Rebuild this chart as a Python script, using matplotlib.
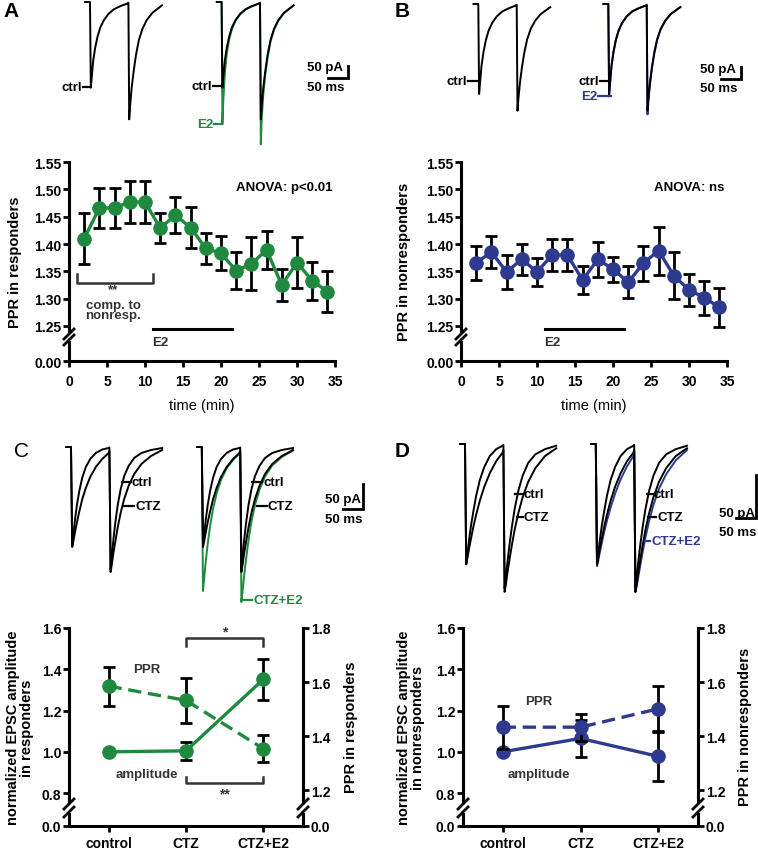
import numpy as np
import matplotlib
matplotlib.use("Agg")
import matplotlib.pyplot as plt
from matplotlib.lines import Line2D
from matplotlib.ticker import FormatStrFormatter

W, H = 758, 853
GREEN = "#1f8a3f"
BLUE = "#2d3a8f"
GREY = "#333333"
MS_PER_PX = 2.5

plt.rcParams["font.family"] = ["Liberation Sans", "DejaVu Sans"]
plt.rcParams["font.weight"] = "bold"
plt.rcParams["font.size"] = 10
plt.rcParams["axes.linewidth"] = 2.2
for a in ("xtick", "ytick"):
    plt.rcParams[a + ".major.width"] = 2.0
    plt.rcParams[a + ".major.size"] = 4.5
    plt.rcParams[a + ".labelsize"] = 10
    plt.rcParams[a + ".direction"] = "out"

# ---- PPR time course (A, B) ----
time_min = [2, 4, 6, 8, 10, 12, 14, 16, 18, 20, 22, 24, 26, 28, 30, 32, 34]
ppr_resp = [1.410, 1.466, 1.466, 1.477, 1.477, 1.429, 1.453, 1.430, 1.392,
            1.383, 1.351, 1.364, 1.389, 1.325, 1.366, 1.333, 1.313]
ppr_resp_sem = [0.046, 0.037, 0.037, 0.039, 0.039, 0.027, 0.033, 0.037, 0.029,
                0.031, 0.034, 0.048, 0.034, 0.030, 0.046, 0.035, 0.038]
ppr_nonresp = [1.366, 1.385, 1.349, 1.372, 1.349, 1.380, 1.380, 1.334, 1.372,
               1.354, 1.330, 1.365, 1.388, 1.342, 1.316, 1.302, 1.284]
ppr_nonresp_sem = [0.031, 0.029, 0.031, 0.028, 0.026, 0.029, 0.029, 0.026, 0.032,
                   0.023, 0.029, 0.032, 0.044, 0.043, 0.029, 0.031, 0.036]
e2_window = [11, 21.5]

# ---- CTZ experiments (C, D) ----
conditions = ["control", "CTZ", "CTZ+E2"]
amp_resp = [1.0, 1.005, 1.352]
amp_resp_sem = [0.0, 0.045, 0.10]
ppr_resp_ctz = [1.585, 1.532, 1.353]
ppr_resp_ctz_sem = [0.072, 0.082, 0.05]
amp_nonresp = [1.0, 1.065, 0.978]
amp_nonresp_sem = [0.0, 0.088, 0.117]
ppr_nonresp_ctz = [1.433, 1.433, 1.501]
ppr_nonresp_ctz_sem = [0.08, 0.05, 0.083]

# ---- example EPSC traces (ms, pA) ----
t_ab = [-12, 0, 2, 4, 8, 13, 19, 26, 35, 46, 60, 76, 94, 96, 98, 100, 104, 109,
        115, 122, 131, 142, 156, 180]
a_ctrl = [0, 0, -357, -320, -245, -190, -143, -105, -75, -50, -30, -17, -6, -3,
          -489, -440, -360, -290, -220, -160, -112, -75, -45, -14]
a_e2 = [0, 0, -510, -420, -300, -215, -155, -112, -78, -52, -31, -18, -6, -3,
        -593, -500, -390, -305, -232, -168, -116, -77, -46, -14]
b_ctrl = [0, 0, -375, -335, -258, -200, -150, -110, -78, -52, -31, -18, -6, -3,
          -445, -400, -330, -265, -203, -148, -104, -70, -42, -13]
b_e2 = [0, 0, -385, -340, -258, -198, -148, -108, -77, -51, -30, -17, -6, -3,
        -460, -410, -335, -268, -205, -150, -105, -71, -42, -13]

t_cd = [-12, 0, 3, 6, 10, 15, 21, 28, 37, 48, 62, 78, 94, 96, 99, 102, 106, 111,
        117, 124, 133, 144, 158, 176, 200, 228]
c_ctrl = [0, 0, -197, -175, -145, -115, -87, -62, -40, -24, -12, -5, -2, -1,
          -246, -220, -185, -150, -115, -85, -58, -38, -22, -12, -6, -2]
c_ctz = [0, 0, -200, -188, -170, -150, -128, -105, -82, -60, -40, -24, -12, -8,
         -250, -235, -212, -188, -160, -132, -104, -78, -54, -34, -18, -6]
c_ctz_e2 = [0, 0, -288, -262, -228, -192, -157, -124, -93, -66, -43, -26, -13, -9,
            -310, -288, -256, -222, -185, -150, -116, -86, -59, -37, -20, -7]
d_ctrl = [0, 0, -139, -128, -112, -95, -78, -60, -42, -27, -14, -6, -2, -1,
          -168, -155, -138, -118, -97, -76, -55, -37, -22, -12, -6, -2]
d_ctz = [0, 0, -140, -133, -122, -110, -96, -82, -66, -50, -34, -20, -10, -7,
         -172, -164, -150, -135, -118, -100, -81, -62, -44, -28, -14, -5]
d_ctz_e2 = [0, 0, -142, -136, -126, -115, -102, -89, -74, -58, -41, -26, -14, -10,
            -172, -166, -155, -142, -126, -109, -90, -71, -52, -35, -19, -7]

fig = plt.figure(figsize=(W / 100, H / 100), dpi=100)


def box(x0, y0, x1, y1):
    return [x0 / W, 1 - y1 / H, (x1 - x0) / W, (y1 - y0) / H]


def fx(x):
    return x / W


def fy(y):
    return 1 - y / H


def fline(xs, ys, color="k", lw=2.0):
    fig.add_artist(Line2D([fx(v) for v in xs], [fy(v) for v in ys], color=color,
                          lw=lw, transform=fig.transFigure))


def break_marks(x, y_top, y_bot):
    for y in (y_top + 2, y_bot - 2):
        fline([x - 5, x + 5], [y + 5, y - 5], lw=2.0)


def px2data(ax, x, y):
    disp = fig.transFigure.transform((fx(x), fy(y)))
    return ax.transData.inverted().transform(disp)


def time_panel(x0, x1, y, sem, color, ylabel, ylabel_x, anova):
    top = fig.add_axes(box(x0, 162.5, x1, 333))
    bot = fig.add_axes(box(x0, 343, x1, 362))
    top.errorbar(time_min, y, yerr=sem, fmt="none", ecolor="k", elinewidth=2,
                 capsize=4, capthick=2, zorder=2, clip_on=False)
    top.plot(time_min, y, "-o", color=color, lw=2.4, ms=9.5, zorder=3, clip_on=False)
    top.set_xlim(0, 35)
    top.set_ylim(1.239, 1.551)
    top.set_yticks(np.arange(1.25, 1.5501, 0.05))
    top.yaxis.set_major_formatter(FormatStrFormatter("%.2f"))
    for s in ("top", "right", "bottom"):
        top.spines[s].set_visible(False)
    top.tick_params(axis="x", bottom=False, labelbottom=False)
    top.tick_params(axis="y", pad=1)
    top.patch.set_visible(False)

    bot.set_xlim(0, 35)
    bot.set_ylim(0, 0.04)
    bot.set_yticks([0])
    bot.set_yticklabels(["0.00"])
    bot.set_xticks(range(0, 36, 5))
    for s in ("top", "right"):
        bot.spines[s].set_visible(False)
    bot.tick_params(axis="y", pad=1)
    bot.tick_params(axis="x", pad=5)
    bot.set_xlabel("time (min)", labelpad=7, fontsize=10.5)
    bot.patch.set_visible(False)

    top.plot(e2_window, [1.2445, 1.2445], color="k", lw=2.2, clip_on=False)
    top.text(e2_window[0], 1.2207, "E2", ha="left", va="center", fontsize=9.5,
             color=GREY)
    top.text(34.7, 1.505, anova, ha="right", va="center", fontsize=9.5)
    fig.text(fx(ylabel_x), fy(262), ylabel, rotation=90, ha="center",
             va="center", fontsize=10.5)
    break_marks(x0, 333, 343)
    return top


def cond_panel(x0, x1, amp, amp_sem, ppr, ppr_sem, color, ylab_l, ylab_r,
               lx, rx, ppr_pos, amp_pos):
    top = fig.add_axes(box(x0, 629, x1, 803))
    bot = fig.add_axes(box(x0, 815, x1, 827))
    right = top.twinx()
    xs = np.arange(len(conditions))
    eb = dict(fmt="none", ecolor="k", elinewidth=2, capsize=4.5, capthick=2,
              zorder=2, clip_on=False)
    top.errorbar(xs, amp, yerr=amp_sem, **eb)
    top.plot(xs, amp, "-o", color=color, lw=2.4, ms=9.5, zorder=3, clip_on=False)
    right.errorbar(xs, ppr, yerr=ppr_sem, **eb)
    right.plot(xs, ppr, "o", ls=(0, (4, 2)), color=color, lw=2.4, ms=9.5,
               zorder=3, clip_on=False)
    top.set_xlim(-0.51, 2.51)
    top.set_ylim(0.757, 1.6)
    right.set_ylim(1.156, 1.8)
    top.set_yticks([0.8, 1.0, 1.2, 1.4, 1.6])
    right.set_yticks([1.2, 1.4, 1.6, 1.8])
    top.yaxis.set_major_formatter(FormatStrFormatter("%.1f"))
    right.yaxis.set_major_formatter(FormatStrFormatter("%.1f"))
    for ax in (top, right):
        for s in ("top", "bottom"):
            ax.spines[s].set_visible(False)
        ax.tick_params(axis="x", bottom=False, labelbottom=False)
        ax.tick_params(axis="y", pad=1)
        ax.patch.set_visible(False)

    bot.set_xlim(-0.51, 2.51)
    bot.set_ylim(0, 0.04)
    bot.set_yticks([0])
    bot.set_yticklabels(["0.0"])
    bot.tick_params(axis="y", right=True, labelright=True, pad=1)
    bot.spines["top"].set_visible(False)
    bot.set_xticks(xs)
    bot.set_xticklabels(conditions)
    bot.tick_params(axis="x", pad=2.5)
    bot.patch.set_visible(False)

    top.text(ppr_pos[0], ppr_pos[1], "PPR", ha="center", va="center",
             fontsize=9.5, color=GREY)
    top.text(amp_pos[0], amp_pos[1], "amplitude", ha="center", va="center",
             fontsize=9.5, color=GREY)
    fig.text(fx(lx), fy(728), ylab_l, rotation=90, ha="center", va="center",
             fontsize=10.5, linespacing=1.0)
    fig.text(fx(rx), fy(727), ylab_r, rotation=90, ha="center", va="center",
             fontsize=10.5)
    break_marks(x0, 803, 815)
    break_marks(x1, 803, 815)
    return top


def trace_axes(x0, y0, x1, y1, stim_px, base_px, pa_per_px):
    ax = fig.add_axes(box(x0, y0, x1, y1))
    ax.set_xlim((x0 - stim_px) * MS_PER_PX, (x1 - stim_px) * MS_PER_PX)
    ax.set_ylim(-(y1 - base_px) * pa_per_px, -(y0 - base_px) * pa_per_px)
    ax.axis("off")
    return ax


def scale_bar(ax, x_px, y_px, txt_x, pa_y, ms_y):
    cx, cy = px2data(ax, x_px, y_px)
    ax.plot([cx - 50, cx, cx], [cy, cy, cy + 50], color="k", lw=2,
            clip_on=False, solid_joinstyle="miter")
    fig.text(fx(txt_x), fy(pa_y), "50 pA", ha="left", va="center", fontsize=9.5)
    fig.text(fx(txt_x), fy(ms_y), "50 ms", ha="left", va="center", fontsize=9.5)


def tag(x_a, x_b, y, text, color="k", side="left"):
    fline([x_a, x_b], [y, y], color=color, lw=1.6)
    if side == "left":
        fig.text(fx(x_a - 1), fy(y), text, ha="right", va="center", color=color,
                 fontsize=9.5)
    else:
        fig.text(fx(x_b + 1), fy(y), text, ha="left", va="center", color=color,
                 fontsize=9.5)


def plot_trace(ax, t, cur, shift, color):
    ax.plot(np.array(t) + shift, cur, color=color, lw=1.4, clip_on=False)


# ---------------- panel A ----------------
axA = trace_axes(40, 0, 379, 150, 90, 3, 50 / 12)
plot_trace(axA, t_ab, a_ctrl, 0, "k")
plot_trace(axA, t_ab, a_e2, 329, GREEN)
plot_trace(axA, t_ab, a_ctrl, 329, "k")
scale_bar(axA, 348, 79, 307, 68, 88)
tag(83, 90, 88, "ctrl")
tag(213, 222, 87, "ctrl")
tag(214, 221, 125, "E2", GREEN)

topA = time_panel(69, 335, ppr_resp, ppr_resp_sem, GREEN, "PPR in responders", 15,
                  "ANOVA: p<0.01")
topA.plot([1, 1, 11, 11], [1.345, 1.328, 1.328, 1.345], color=GREY, lw=1.8)
topA.text(5.8, 1.317, "**", ha="center", va="center", fontsize=9.5, color=GREY)
topA.text(5.8, 1.300, "comp. to\nnonresp.", ha="center", va="top", fontsize=9.5,
          color=GREY, linespacing=0.85)

# ---------------- panel B ----------------
axB = trace_axes(420, 0, 758, 150, 478.3, 5, 50 / 12)
plot_trace(axB, t_ab, b_ctrl, 0, "k")
plot_trace(axB, t_ab, b_e2, 325, BLUE)
plot_trace(axB, t_ab, b_ctrl, 325, "k")
scale_bar(axB, 741, 80, 700, 70, 89)
tag(468, 478, 82, "ctrl")
tag(600, 610, 82, "ctrl")
tag(598, 611, 97, "E2", BLUE)

time_panel(461, 727, ppr_nonresp, ppr_nonresp_sem, BLUE, "PPR in nonresponders",
           404, "ANOVA: ns")

# ---------------- panel C ----------------
axC = trace_axes(40, 430, 379, 620, 71, 448, 2.0)
plot_trace(axC, t_cd, c_ctrl, 0, "k")
plot_trace(axC, t_cd, c_ctz, 0, "k")
plot_trace(axC, t_cd, c_ctz_e2, 327, GREEN)
plot_trace(axC, t_cd, c_ctrl, 327, "k")
plot_trace(axC, t_cd, c_ctz, 327, "k")
scale_bar(axC, 363, 510, 325, 500, 520)
tag(122, 131, 483, "ctrl", side="right")
tag(124, 134, 507, "CTZ", side="right")
tag(252, 262, 483, "ctrl", side="right")
tag(257, 267, 507, "CTZ", side="right")
tag(244, 252, 601, "CTZ+E2", GREEN, side="right")

topC = cond_panel(69, 303, amp_resp, amp_resp_sem, ppr_resp_ctz, ppr_resp_ctz_sem,
                  GREEN, "normalized EPSC amplitude\nin responders",
                  "PPR in responders", 20, 351, (0.49, 1.403), (0.49, 0.894))
topC.plot([1, 1, 2, 2], [1.514, 1.553, 1.553, 1.514], color=GREY, lw=1.8)
topC.text(1.5, 1.585, "*", ha="center", va="center", fontsize=10, color=GREY)
topC.plot([1, 1, 2, 2], [0.88, 0.847, 0.847, 0.88], color=GREY, lw=1.8,
          clip_on=False)
topC.text(1.5, 0.80, "**", ha="center", va="center", fontsize=10, color=GREY,
          clip_on=False)

# ---------------- panel D ----------------
axD = trace_axes(420, 430, 758, 620, 465, 445, 50 / 43)
plot_trace(axD, t_cd, d_ctrl, 0, "k")
plot_trace(axD, t_cd, d_ctz, 0, "k")
plot_trace(axD, t_cd, d_ctz_e2, 327, BLUE)
plot_trace(axD, t_cd, d_ctrl, 327, "k")
plot_trace(axD, t_cd, d_ctz, 327, "k")
scale_bar(axD, 756, 519, 719, 514, 533)
tag(515, 523, 495, "ctrl", side="right")
tag(517, 523, 518, "CTZ", side="right")
tag(647, 653, 495, "ctrl", side="right")
tag(648, 656, 518, "CTZ", side="right")
tag(645, 650, 542, "CTZ+E2", BLUE, side="right")

cond_panel(463, 698, amp_nonresp, amp_nonresp_sem, ppr_nonresp_ctz,
           ppr_nonresp_ctz_sem, BLUE, "normalized EPSC amplitude\nin nonresponders",
           "PPR in nonresponders", 411, 745, (0.46, 1.244), (0.46, 0.894))

# panel letters
fig.text(fx(3), fy(2), "A", fontsize=15, fontweight="bold", va="top")
fig.text(fx(395), fy(2), "B", fontsize=15, fontweight="bold", va="top")
fig.text(fx(14), fy(442), "C", fontsize=15, fontweight="normal", va="top")
fig.text(fx(395), fy(442), "D", fontsize=15, fontweight="bold", va="top")

fig.savefig("out.png", dpi=100)
